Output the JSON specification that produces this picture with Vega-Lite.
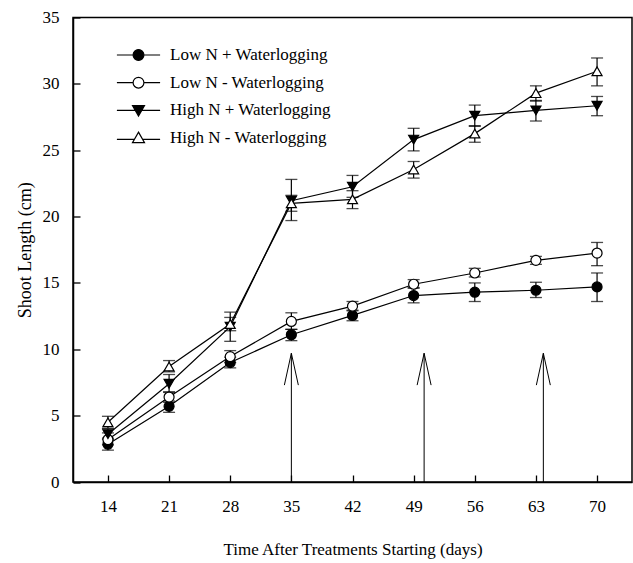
{
  "$schema": "https://vega.github.io/schema/vega-lite/v6.json",
  "width": 559,
  "height": 464.5,
  "autosize": {"type": "none"},
  "padding": {"left": 73, "top": 17.5, "right": 1, "bottom": 81},
  "background": "white",
  "config": {
    "view": {"stroke": "black", "strokeWidth": 1.5},
    "font": "Liberation Serif",
    "axis": {
      "grid": false, "domainColor": "black", "domainWidth": 1.5,
      "tickColor": "black", "tickWidth": 1.3, "tickSize": -7,
      "labelFont": "Liberation Serif", "labelFontSize": 17, "labelColor": "black",
      "titleFont": "Liberation Serif", "titleFontSize": 17, "titleFontWeight": "normal", "titleColor": "black"
    },
    "legend": {"labelFont": "Liberation Serif"}
  },
  "datasets": {
    "pts": [
      {"day": 14, "group": "Low N + Waterlogging", "len": 2.85, "lo": 2.4, "hi": 3.3},
      {"day": 21, "group": "Low N + Waterlogging", "len": 5.7, "lo": 5.25, "hi": 6.1},
      {"day": 28, "group": "Low N + Waterlogging", "len": 9.0, "lo": 8.6, "hi": 9.4},
      {"day": 35, "group": "Low N + Waterlogging", "len": 11.1, "lo": 10.65, "hi": 11.5},
      {"day": 42, "group": "Low N + Waterlogging", "len": 12.55, "lo": 12.15, "hi": 12.95},
      {"day": 49, "group": "Low N + Waterlogging", "len": 14.05, "lo": 13.5, "hi": 14.65},
      {"day": 56, "group": "Low N + Waterlogging", "len": 14.3, "lo": 13.6, "hi": 15.0},
      {"day": 63, "group": "Low N + Waterlogging", "len": 14.45, "lo": 13.9, "hi": 15.05},
      {"day": 70, "group": "Low N + Waterlogging", "len": 14.7, "lo": 13.6, "hi": 15.75},
      {"day": 14, "group": "Low N - Waterlogging", "len": 3.2, "lo": 2.8, "hi": 3.7},
      {"day": 21, "group": "Low N - Waterlogging", "len": 6.4, "lo": 6.0, "hi": 6.8},
      {"day": 28, "group": "Low N - Waterlogging", "len": 9.45, "lo": 9.0, "hi": 9.9},
      {"day": 35, "group": "Low N - Waterlogging", "len": 12.1, "lo": 11.5, "hi": 12.75},
      {"day": 42, "group": "Low N - Waterlogging", "len": 13.25, "lo": 12.9, "hi": 13.6},
      {"day": 49, "group": "Low N - Waterlogging", "len": 14.9, "lo": 14.6, "hi": 15.25},
      {"day": 56, "group": "Low N - Waterlogging", "len": 15.75, "lo": 15.45, "hi": 16.1},
      {"day": 63, "group": "Low N - Waterlogging", "len": 16.7, "lo": 16.4, "hi": 17.0},
      {"day": 70, "group": "Low N - Waterlogging", "len": 17.25, "lo": 16.3, "hi": 18.05},
      {"day": 14, "group": "High N + Waterlogging", "len": 3.6, "lo": 3.2, "hi": 4.0},
      {"day": 21, "group": "High N + Waterlogging", "len": 7.4, "lo": 6.75, "hi": 8.1},
      {"day": 28, "group": "High N + Waterlogging", "len": 11.7, "lo": 10.6, "hi": 12.8},
      {"day": 35, "group": "High N + Waterlogging", "len": 21.2, "lo": 19.7, "hi": 22.8},
      {"day": 42, "group": "High N + Waterlogging", "len": 22.25, "lo": 21.45, "hi": 23.1},
      {"day": 49, "group": "High N + Waterlogging", "len": 25.8, "lo": 24.95, "hi": 26.65},
      {"day": 56, "group": "High N + Waterlogging", "len": 27.6, "lo": 26.8, "hi": 28.4},
      {"day": 63, "group": "High N + Waterlogging", "len": 28.0, "lo": 27.2, "hi": 28.75},
      {"day": 70, "group": "High N + Waterlogging", "len": 28.35, "lo": 27.6, "hi": 29.05},
      {"day": 14, "group": "High N - Waterlogging", "len": 4.5, "lo": 4.05, "hi": 4.95},
      {"day": 21, "group": "High N - Waterlogging", "len": 8.7, "lo": 8.3, "hi": 9.15},
      {"day": 28, "group": "High N - Waterlogging", "len": 11.9, "lo": 11.4, "hi": 12.4},
      {"day": 35, "group": "High N - Waterlogging", "len": 21.0, "lo": 20.4, "hi": 21.6},
      {"day": 42, "group": "High N - Waterlogging", "len": 21.3, "lo": 20.6, "hi": 21.95},
      {"day": 49, "group": "High N - Waterlogging", "len": 23.55, "lo": 22.9, "hi": 24.15},
      {"day": 56, "group": "High N - Waterlogging", "len": 26.25, "lo": 25.6, "hi": 26.85},
      {"day": 63, "group": "High N - Waterlogging", "len": 29.3, "lo": 28.7, "hi": 29.85},
      {"day": 70, "group": "High N - Waterlogging", "len": 30.95, "lo": 29.85, "hi": 31.95}
    ],
    "shafts": [
      {"ax": 35, "y0": 0, "y1": 9.7},
      {"ax": 50.2, "y0": 0, "y1": 9.7},
      {"ax": 63.85, "y0": 0, "y1": 9.7}
    ],
    "heads": [
      {"arrow": "a1", "k": 1, "hx": 34.2, "hy": 7.3},
      {"arrow": "a1", "k": 2, "hx": 35, "hy": 9.7},
      {"arrow": "a1", "k": 3, "hx": 35.8, "hy": 7.3},
      {"arrow": "a2", "k": 1, "hx": 49.4, "hy": 7.3},
      {"arrow": "a2", "k": 2, "hx": 50.2, "hy": 9.7},
      {"arrow": "a2", "k": 3, "hx": 51.0, "hy": 7.3},
      {"arrow": "a3", "k": 1, "hx": 63.05, "hy": 7.3},
      {"arrow": "a3", "k": 2, "hx": 63.85, "hy": 9.7},
      {"arrow": "a3", "k": 3, "hx": 64.65, "hy": 7.3}
    ]
  },
  "layer": [
    {
      "data": {"name": "pts"},
      "mark": {"type": "line", "color": "black", "strokeWidth": 1.2},
      "encoding": {
        "x": {"field": "day", "type": "quantitative", "title": "Time After Treatments Starting (days)",
              "scale": {"domain": [10, 74], "nice": false, "zero": false},
              "axis": {"values": [14, 21, 28, 35, 42, 49, 56, 63, 70], "labelPadding": 23, "titlePadding": 27}},
        "y": {"field": "len", "type": "quantitative", "title": "Shoot Length (cm)",
              "scale": {"domain": [0, 35], "nice": false},
              "axis": {"values": [0, 5, 10, 15, 20, 25, 30, 35], "labelPadding": 21, "titlePadding": 8, "titleFontSize": 18}},
        "detail": {"field": "group"}
      }
    },
    {
      "data": {"name": "pts"},
      "mark": {"type": "rule", "color": "black", "strokeWidth": 1.2},
      "encoding": {
        "x": {"field": "day", "type": "quantitative", "title": "Time After Treatments Starting (days)"},
        "y": {"field": "lo", "type": "quantitative", "title": "Shoot Length (cm)"},
        "y2": {"field": "hi"}
      }
    },
    {
      "data": {"name": "pts"},
      "mark": {"type": "tick", "orient": "horizontal", "color": "black", "size": 12, "thickness": 1.3},
      "encoding": {
        "x": {"field": "day", "type": "quantitative", "title": "Time After Treatments Starting (days)"},
        "y": {"field": "lo", "type": "quantitative", "title": "Shoot Length (cm)"}
      }
    },
    {
      "data": {"name": "pts"},
      "mark": {"type": "tick", "orient": "horizontal", "color": "black", "size": 12, "thickness": 1.3},
      "encoding": {
        "x": {"field": "day", "type": "quantitative", "title": "Time After Treatments Starting (days)"},
        "y": {"field": "hi", "type": "quantitative", "title": "Shoot Length (cm)"}
      }
    },
    {
      "data": {"name": "shafts"},
      "mark": {"type": "rule", "color": "black", "strokeWidth": 1},
      "encoding": {
        "x": {"field": "ax", "type": "quantitative", "title": "Time After Treatments Starting (days)"},
        "y": {"field": "y0", "type": "quantitative", "title": "Shoot Length (cm)"},
        "y2": {"field": "y1"}
      }
    },
    {
      "data": {"name": "heads"},
      "mark": {"type": "line", "color": "black", "strokeWidth": 1},
      "encoding": {
        "x": {"field": "hx", "type": "quantitative", "title": "Time After Treatments Starting (days)"},
        "y": {"field": "hy", "type": "quantitative", "title": "Shoot Length (cm)"},
        "detail": {"field": "arrow"},
        "order": {"field": "k"}
      }
    },
    {
      "data": {"name": "pts"},
      "mark": {"type": "point", "filled": true, "stroke": "black", "strokeWidth": 1.2, "size": 100, "opacity": 1},
      "encoding": {
        "x": {"field": "day", "type": "quantitative", "title": "Time After Treatments Starting (days)"},
        "y": {"field": "len", "type": "quantitative", "title": "Shoot Length (cm)"},
        "shape": {
          "field": "group", "type": "nominal",
          "scale": {"domain": ["High N + Waterlogging", "High N - Waterlogging", "Low N + Waterlogging", "Low N - Waterlogging"],
                    "range": ["triangle-down", "triangle-up", "circle", "circle"]},
          "legend": null
        },
        "fill": {
          "field": "group", "type": "nominal",
          "scale": {"domain": ["Low N + Waterlogging", "Low N - Waterlogging", "High N + Waterlogging", "High N - Waterlogging"],
                    "range": ["black", "white", "black", "white"]},
          "legend": {
            "title": null, "orient": "none", "legendX": 57, "legendY": 29, "padding": 0,
            "labelFont": "Liberation Serif", "labelFontSize": 17, "labelColor": "black", "labelOffset": 23, "labelLimit": 400,
            "rowPadding": 9.7, "symbolSize": 144, "symbolStrokeColor": "black", "symbolStrokeWidth": 1.2,
            "symbolType": {"expr": "datum.value === 'High N + Waterlogging' ? 'M-3.6,0H3.6M-1,-0.8L1,-0.8L0,0.95Z' : datum.value === 'High N - Waterlogging' ? 'M-3.6,0.2H-0.7M0.7,0.2H3.6M0,-1L1,0.75L-1,0.75Z' : 'M-3.6,0H-0.9M0.9,0H3.6M-0.9,0A0.9,0.9,0,1,1,0.9,0A0.9,0.9,0,1,1,-0.9,0Z'"},
            "encode": {"symbols": {
              "size": {"value": 144},
              "stroke": {"value": "black"},
              "strokeWidth": {"value": 1.2},
              "opacity": {"value": 1}
            }}
          }
        }
      }
    }
  ]
}
